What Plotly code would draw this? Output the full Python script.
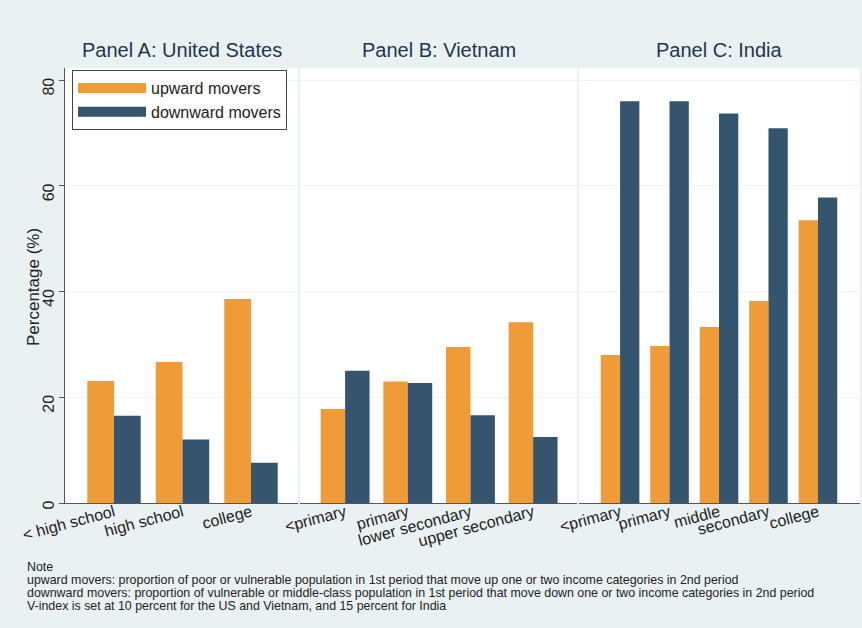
import plotly.graph_objects as go

# ---- data ----
us_cats = ["< high school", "high school", "college"]
us_up = [23.1, 26.7, 38.6]
us_down = [16.5, 12.0, 7.6]

vn_cats = ["<primary", "primary", "lower secondary", "upper secondary"]
vn_up = [17.8, 23.0, 29.5, 34.2]
vn_down = [25.0, 22.7, 16.6, 12.5]

in_cats = ["<primary", "primary", "middle", "secondary", "college"]
in_up = [28.0, 29.7, 33.3, 38.2, 53.5]
in_down = [76.0, 76.0, 73.7, 70.9, 57.8]

y_ticks = [0, 20, 40, 60, 80]
series_names = ["upward movers", "downward movers"]
panel_titles = ["Panel A: United States", "Panel B: Vietnam", "Panel C: India"]
y_title = "Percentage (%)"
note_lines = [
    "Note",
    "upward movers: proportion of poor or vulnerable population in 1st period that move up one or two income categories in 2nd period",
    "downward movers: proportion of vulnerable or middle-class population in 1st period that move down one or two income categories in 2nd period",
    "V-index is set at 10 percent for the US and Vietnam, and 15 percent for India",
]

ORANGE = "#EF9B38"
NAVY = "#35556E"
BG = "#EAF1F3"
AXC = "#555555"
FONT = "Liberation Sans, Arial, sans-serif"
colors = [ORANGE, NAVY]

fig = go.Figure()
panels = [(us_cats, us_up, us_down), (vn_cats, vn_up, vn_down), (in_cats, in_up, in_down)]
for i, (cats, up, down) in enumerate(panels):
    xa = "x" if i == 0 else f"x{i+1}"
    ya = "y" if i == 0 else f"y{i+1}"
    xs = list(range(len(cats)))
    for s, vals in enumerate([up, down]):
        fig.add_trace(go.Bar(x=xs, y=vals, name=series_names[s],
                             marker=dict(color=colors[s], line=dict(width=0)),
                             xaxis=xa, yaxis=ya, showlegend=False, offsetgroup=str(s)))

# legend entries (wide swatches like the original)
for s in range(2):
    fig.add_trace(go.Scatter(x=[None], y=[None], mode="lines", name=series_names[s],
                             line=dict(color=colors[s], width=16), showlegend=True))

W, H = 862, 628
ml, mr, mt, mb = 65, 2, 68, 125
pw = W - ml - mr
ph = H - mt - mb
def dom(a, b):
    return [(a - ml) / pw, (b - ml) / pw]

doms = [dom(65, 298), dom(300, 577), dom(579, 860)]
ranges = [[-0.715, 2.686], [-0.72, 3.70], [-0.83, 4.85]]
cats_all = [us_cats, vn_cats, in_cats]

layout = dict(
    width=W, height=H,
    margin=dict(l=ml, r=mr, t=mt, b=mb, autoexpand=False),
    paper_bgcolor=BG, plot_bgcolor="white",
    barmode="group", bargap=0.22, bargroupgap=0,
    font=dict(family=FONT, size=16, color="#222222"),
    showlegend=True,
    legend=dict(x=(72 - ml) / pw, y=(503 - 70) / ph, xanchor="left", yanchor="top",
                bgcolor="white", bordercolor="#444444", borderwidth=1,
                font=dict(size=16, color="#222222"), tracegroupgap=0, itemwidth=68),
)
for i in range(3):
    key = "xaxis" if i == 0 else f"xaxis{i+1}"
    layout[key] = dict(
        domain=doms[i], range=ranges[i], anchor="y" if i == 0 else f"y{i+1}",
        tickmode="array", tickvals=list(range(len(cats_all[i]))), ticktext=cats_all[i],
        tickangle=-15, ticks="", showline=True, linecolor=AXC, linewidth=1,
        showgrid=False, zeroline=False, tickfont=dict(size=16, color="#222222"),
        automargin=False, ticklabelstandoff=-7,
    )
    ykey = "yaxis" if i == 0 else f"yaxis{i+1}"
    yd = dict(range=[0, 82.3], domain=[0, 1], showgrid=True, gridcolor="#EEF3F5",
              zeroline=False, tickvals=y_ticks, automargin=False)
    if i == 0:
        yd.update(anchor="x", showline=True, linecolor=AXC, linewidth=1, ticks="outside",
                  ticklen=5, tickcolor=AXC, tickangle=-89.9, tickfont=dict(size=16, color="#222222"),
                  ticklabelstandoff=10)
    else:
        yd.update(anchor=f"x{i+1}", matches="y", showticklabels=False, ticks="", showline=False)
    layout[ykey] = yd

fig.update_layout(**layout)

fig.add_annotation(text=y_title, xref="paper", yref="paper", x=(33 - ml) / pw, y=(503 - 287) / ph,
                   xanchor="center", yanchor="middle", textangle=-90, showarrow=False,
                   font=dict(size=17, color="#222222", family=FONT))

centers = [(65 + 298) / 2, (300 + 577) / 2, (579 + 860) / 2]
for t, c in zip(panel_titles, centers):
    fig.add_annotation(text=t, x=(c - ml) / pw, y=(503 - 50) / ph, xref="paper", yref="paper",
                       xanchor="center", yanchor="middle", showarrow=False,
                       font=dict(size=20, color="#1E3550", family=FONT))

for k, line in enumerate(note_lines):
    fig.add_annotation(text=line, xref="paper", yref="paper",
                       x=(25 - ml) / pw, y=-(566.5 + 13.0 * k - 503) / ph,
                       xanchor="left", yanchor="middle", showarrow=False,
                       font=dict(size=12.4, color="#222222", family=FONT))

fig.write_html("out.html", config={"displayModeBar": False},
               post_script="document.body.style.margin='0';")
